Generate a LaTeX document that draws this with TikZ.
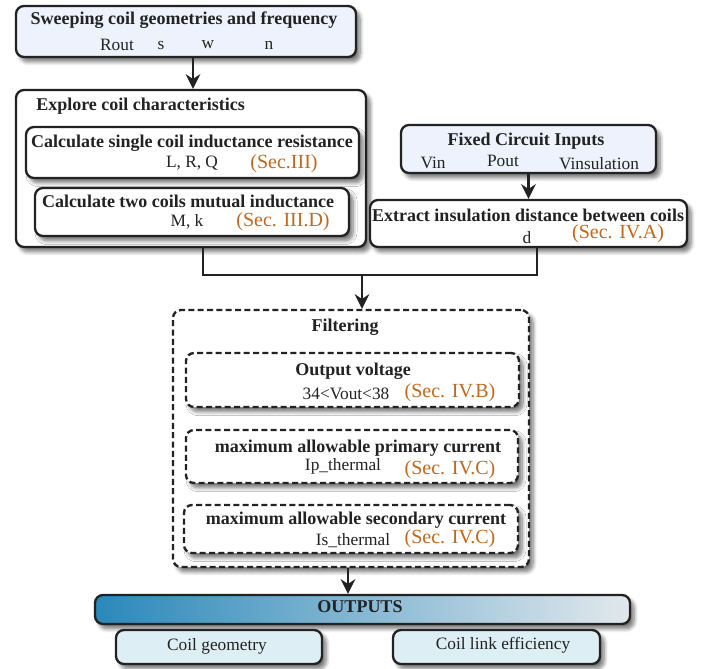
\documentclass[tikz,border=0pt]{standalone}
\usepackage{fontspec}
\setmainfont{Liberation Serif}
\usetikzlibrary{arrows.meta,fit,shadows.blur}
\definecolor{inblue}{HTML}{EDF2FC}
\definecolor{secor}{HTML}{C0691E}
\definecolor{outsub}{HTML}{DDEFF5}
\definecolor{ink}{HTML}{222222}
\definecolor{gA}{HTML}{2A88BA}
\definecolor{gB}{HTML}{55B6E0}
\definecolor{gC}{HTML}{E2E8EC}
\tikzset{
  box/.style={draw=ink, line width=1.75pt, rounded corners=6pt, inner sep=0pt, fill=white,
    blur shadow={shadow xshift=3pt, shadow yshift=-3.5pt, shadow blur steps=7, shadow blur radius=3pt, shadow opacity=55}},
  dbox/.style={box, dash pattern=on 4.5pt off 2.5pt},
  ttl/.style={font=\fontsize{13.5}{16}\selectfont\bfseries, text=ink, inner sep=0pt},
  txt/.style={font=\fontsize{13}{16}\selectfont, text=ink, inner sep=0pt},
  sec/.style={font=\fontsize{15}{18}\selectfont, text=secor, inner sep=0pt},
  arr/.style={line width=1.75pt, draw=ink, -{Stealth[length=11pt,width=11pt]}},
  ln/.style={line width=1.75pt, draw=ink}
}
\begin{document}
\begin{tikzpicture}[x=0.75pt,y=-0.75pt]
\useasboundingbox (0,0) rectangle (710,668);
% top box
\node[box, fill=inblue, fit={(16,6) (356,57)}] (top) {};
\node[ttl] (toptitle) at (184,20) {Sweeping coil geometries and frequency};
\node[txt] (rout) at (117,45) {Rout};
\node[txt] (s) at (161,45) {s};
\node[txt] (w) at (208,45) {w};
\node[txt] (n) at (269,45) {n};
% explore
\node[box, fit={(16,90) (366,247)}] (explore) {};
\node[ttl, anchor=west] (exptitle) at (36,106) {Explore coil characteristics};
\node[box, fit={(26,127) (359,178)}] (single) {};
\node[ttl] (singletitle) at (192,143) {Calculate single coil inductance resistance};
\node[txt] (lrq) at (192,163) {L, R, Q};
\node[sec] (secIII) at (284,164) {(Sec.III)};
\node[box, fit={(35,188) (349,236)}] (mutual) {};
\node[ttl] (mutualtitle) at (188,201) {Calculate two coils mutual inductance};
\node[txt] (mk) at (187,222) {M, k};
\node[sec] (secIIID) at (283,222) {(Sec. III.D)};
% fixed inputs
\node[box, fill=inblue, fit={(401,125) (656,173)}] (fixed) {};
\node[ttl] (fixedtitle) at (526,141) {Fixed Circuit Inputs};
\node[txt] (vin) at (433,163) {Vin};
\node[txt] (pout) at (503,161) {Pout};
\node[txt] (vins) at (599,164) {Vinsulation};
% extract
\node[box, fit={(370,200) (687,247)}] (extract) {};
\node[ttl] (extracttitle) at (528,215) {Extract insulation distance between coils};
\node[txt] (d) at (527,238) {d};
\node[sec] (secIVA) at (618,234) {(Sec. IV.A)};
% filtering
\node[dbox, fit={(173,310) (529,567)}] (filter) {};
\node[ttl] (filtertitle) at (345,327) {Filtering};
\node[dbox, fit={(186,353) (519,407)}] (fv) {};
\node[ttl] (fvtitle) at (353,371) {Output voltage};
\node[txt] (vrange) at (346,394) {34<Vout<38};
\node[sec] (secIVB) at (450,393) {(Sec. IV.B)};
\node[dbox, fit={(186,430) (518,483)}] (fp) {};
\node[ttl] (fptitle) at (358,448) {maximum allowable primary current};
\node[txt] (ip) at (343,466) {Ip\_thermal};
\node[sec] (secIVC1) at (450,470) {(Sec. IV.C)};
\node[dbox, fit={(184,505) (518,553)}] (fs) {};
\node[ttl] (fstitle) at (356,520) {maximum allowable secondary current};
\node[txt] (is) at (353,541) {Is\_thermal};
\node[sec] (secIVC2) at (450,539) {(Sec. IV.C)};
% outputs
\node[box, fit={(95,595) (630,624)}, left color=gA, middle color=gB, right color=gC] (outputs) {};
\node[ttl] (outtitle) at (360,607) {OUTPUTS};
\node[box, fill=outsub, fit={(116,630) (322,664)}] (geom) {};
\node[txt] (geomtxt) at (217,646) {Coil geometry};
\node[box, fill=outsub, fit={(393,630) (600,664)}] (eff) {};
\node[txt] (efftxt) at (503,645) {Coil link efficiency};
% connectors
\coordinate (a1) at (193,0);
\draw[arr] (a1 |- top.south) -- (a1 |- explore.north);
\draw[arr] (fixed.south) -- (extract.north);
\coordinate (j1) at (203,275);
\coordinate (j2) at (537,275);
\coordinate (jm) at (362,275);
\draw[ln] (j1 |- explore.south) -- (j1) -- (j2) -- (j2 |- extract.south);
\draw[arr] (jm) -- (jm |- filter.north);
\coordinate (a2) at (348,0);
\draw[arr] (a2 |- filter.south) -- (a2 |- outputs.north);
\end{tikzpicture}
\end{document}
